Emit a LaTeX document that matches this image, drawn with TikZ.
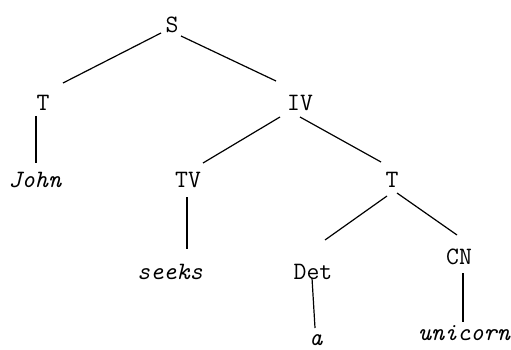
\documentclass[tikz,border=0pt]{standalone}
\begin{document}
\begin{tikzpicture}[x=1pt,y=-1pt,
  cat/.style={font=\fontsize{25}{25}\selectfont\ttfamily, inner sep=0pt},
  word/.style={font=\fontsize{25}{25}\selectfont\ttfamily\itshape, inner sep=0pt},
  branch/.style={line width=1.2pt}]
\clip (0,0) rectangle (511,350);
\fill[white] (0,0) rectangle (511,350);
% category labels
\node[cat] (S)   at (172,25)  {S};
\node[cat] (T1)  at (43,103)  {T};
\node[cat] (IV)  at (300,103) {IV};
\node[cat] (TV)  at (188,180) {TV};
\node[cat] (T2)  at (392,180) {T};
\node[cat] (Det) at (313,272) {Det};
\node[cat] (CN)  at (459,257) {CN};
% lexical items
\node[word] (John)    at (35,180)  {John};
\node[word] (seeks)   at (170,272) {seeks};
\node[word] (a)       at (316,340) {a};
\node[word] (unicorn) at (464,333) {unicorn};
% branches
\draw[branch] ([shift={(-11,8)}]S.center)   -- ([shift={(20,-20)}]T1.center);
\draw[branch] ([shift={(9,11)}]S.center)    -- ([shift={(-24,-22)}]IV.center);
\draw[branch] ([shift={(-7,13)}]T1.center)  -- ([shift={(1,-17)}]John.center);
\draw[branch] ([shift={(-20,14)}]IV.center) -- ([shift={(15,-17)}]TV.center);
\draw[branch] ([shift={(0,14)}]IV.center)   -- ([shift={(-11,-18)}]T2.center);
\draw[branch] ([shift={(-1,17)}]TV.center)  -- ([shift={(17,-23)}]seeks.center);
\draw[branch] ([shift={(-5,16)}]T2.center)  -- ([shift={(12,-32)}]Det.center);
\draw[branch] ([shift={(5,13)}]T2.center)   -- ([shift={(-2,-22)}]CN.center);
\draw[branch] ([shift={(-1,6)}]Det.center)  -- ([shift={(-1,-12)}]a.center);
\draw[branch] ([shift={(4,16)}]CN.center)   -- ([shift={(-1,-11)}]unicorn.center);
\end{tikzpicture}
\end{document}
